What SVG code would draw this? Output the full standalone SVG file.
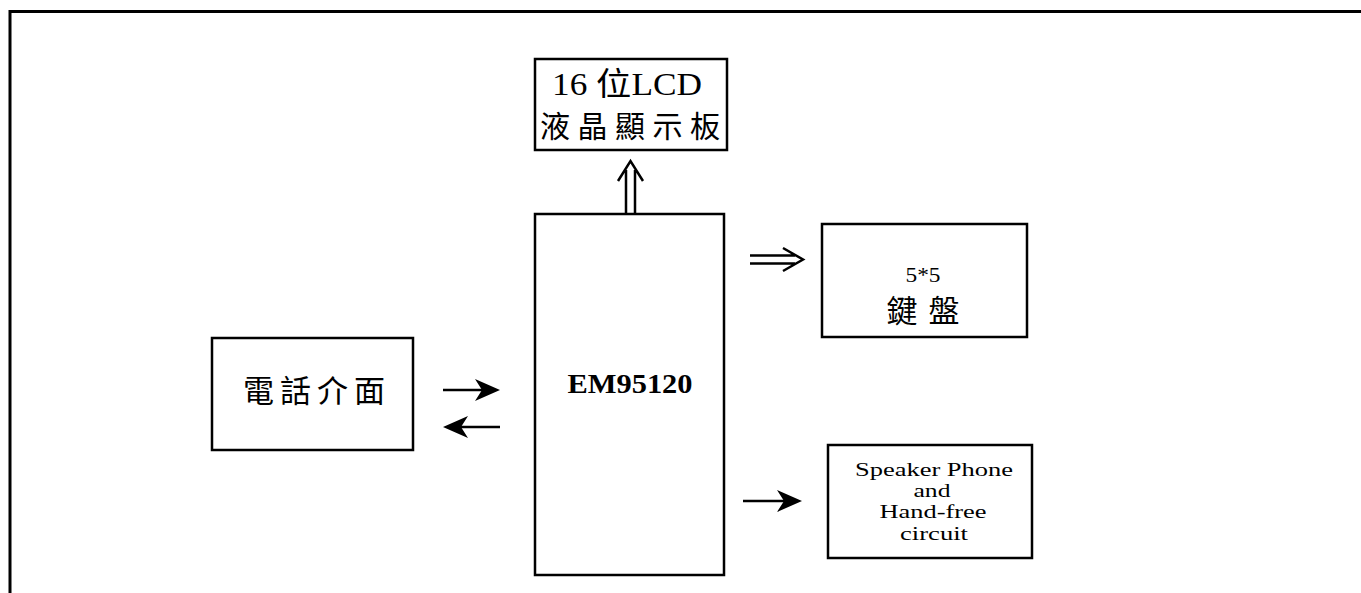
<svg xmlns="http://www.w3.org/2000/svg" width="1361" height="593" viewBox="0 0 1361 593">
<style>
.box{fill:#fff;stroke:#000;stroke-width:2.5}
.t{font-family:"Liberation Serif","Noto Sans CJK TC",serif;fill:#000;text-anchor:middle}
.cjk{font-family:"Liberation Serif","Noto Sans CJK TC",serif;fill:#000;text-anchor:middle}
.ln{fill:none;stroke:#000;stroke-width:2.5}
.head{fill:#000;stroke:none}
.sp{font-size:18.5px}
</style>
<rect width="1361" height="593" fill="#fff"/>
<path d="M10,593 V11.5 H1361" fill="none" stroke="#000" stroke-width="3"/>
<g id="lcd">
<rect class="box" x="535" y="59" width="192" height="91"/>
<text class="cjk" x="627" y="95" font-size="32" textLength="150" lengthAdjust="spacingAndGlyphs">16 位LCD</text>
<text class="cjk" x="630" y="137" font-size="30" textLength="180" lengthAdjust="spacing">液晶顯示板</text>
</g>
<g id="em95120">
<rect class="box" x="535" y="214" width="189" height="361"/>
<text class="t" x="630" y="393" font-size="28" font-weight="bold" textLength="125" lengthAdjust="spacingAndGlyphs">EM95120</text>
</g>
<g id="keypad">
<rect class="box" x="822" y="224" width="205" height="113"/>
<text class="t" x="923" y="282" font-size="22" textLength="35" lengthAdjust="spacingAndGlyphs">5*5</text>
<text class="cjk" x="923" y="322" font-size="31" textLength="73" lengthAdjust="spacing">鍵盤</text>
</g>
<g id="phone">
<rect class="box" x="212" y="338" width="201" height="112"/>
<text class="cjk" x="314" y="402" font-size="31" textLength="142" lengthAdjust="spacing">電話介面</text>
</g>
<g id="speaker">
<rect class="box" x="828" y="445" width="204" height="113"/>
<text class="t sp" x="934" y="476" textLength="158" lengthAdjust="spacingAndGlyphs">Speaker Phone</text>
<text class="t sp" x="932" y="497" textLength="37" lengthAdjust="spacingAndGlyphs">and</text>
<text class="t sp" x="933" y="518" textLength="107" lengthAdjust="spacingAndGlyphs">Hand-free</text>
<text class="t sp" x="934" y="540" textLength="68" lengthAdjust="spacingAndGlyphs">circuit</text>
</g>
<g id="connectors">
<path class="ln" d="M626,214 V170 M635,214 V170 M618,181 L630.5,161 L643,181"/>
<path class="ln" d="M750,255.5 H795 M750,263.5 H795 M783,248 L803,259.5 L783,271"/>
<path class="ln" d="M443,390 H485"/>
<path class="head" d="M500,390 L475,379 L482,390 L475,401 Z"/>
<path class="ln" d="M500,427 H458"/>
<path class="head" d="M443,427 L468,416 L461,427 L468,438 Z"/>
<path class="ln" d="M743,501 H787"/>
<path class="head" d="M802,501 L777,490 L784,501 L777,512 Z"/>
</g>
</svg>
